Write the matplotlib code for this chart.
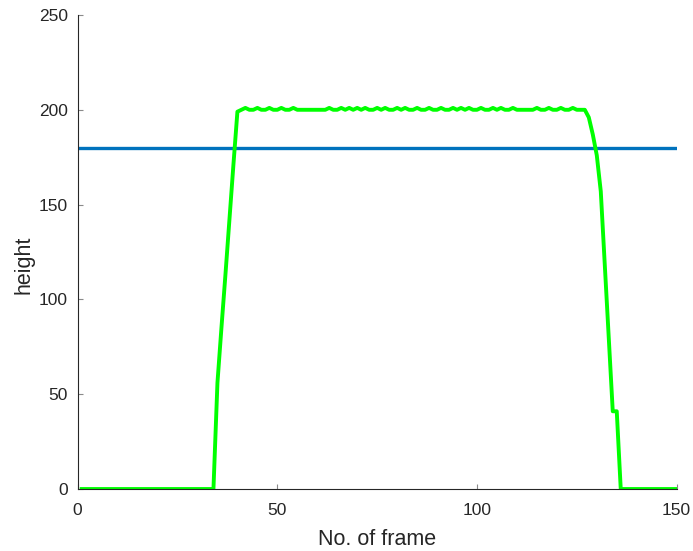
import matplotlib
matplotlib.use("Agg")
import matplotlib.pyplot as plt

# ── Dados ─────────────────────────────────────────────────────────────────────
frames = list(range(1, 151))
height = [
    0, 0, 0, 0, 0, 0, 0, 0, 0, 0,
    0, 0, 0, 0, 0, 0, 0, 0, 0, 0,
    0, 0, 0, 0, 0, 0, 0, 0, 0, 0,
    0, 0, 0, 0, 56, 85, 113, 142, 171, 199,
    200, 201, 200, 200, 201, 200, 200, 201, 200, 200,
    201, 200, 200, 201, 200, 200, 200, 200, 200, 200,
    200, 200, 201, 200, 200, 201, 200, 201, 200, 201,
    200, 201, 200, 200, 201, 200, 201, 200, 200, 201,
    200, 201, 200, 200, 201, 200, 200, 201, 200, 200,
    201, 200, 200, 201, 200, 201, 200, 201, 200, 200,
    201, 200, 200, 201, 200, 201, 200, 200, 201, 200,
    200, 200, 200, 200, 201, 200, 200, 201, 200, 200,
    201, 200, 200, 201, 200, 200, 200, 196, 187, 176,
    157, 118, 80, 41, 41, 0, 0, 0, 0, 0,
    0, 0, 0, 0, 0, 0, 0, 0, 0, 0,
]
limiar_x = [0, 50, 100, 150]
limiar_y = [180, 180, 180, 180]

BLUE  = "#0072BD"
GREEN = "#00FF00"
AXC   = "#262626"

plt.rcParams["font.family"] = ["Liberation Sans", "DejaVu Sans"]

fig = plt.figure(figsize=(6.93, 5.51), dpi=100)
ax = fig.add_axes([0.1121, 0.1125, 0.8643, 0.8603])

ax.plot(limiar_x, limiar_y, color=BLUE, linewidth=2.4, solid_joinstyle="round")
ax.plot(frames, height, color=GREEN, linewidth=2.8, solid_joinstyle="round")

ax.set_xlim(0, 150)
ax.set_ylim(0, 250)
ax.set_xticks([0, 50, 100, 150])
ax.set_yticks([0, 50, 100, 150, 200, 250])

ax.spines[["top", "right"]].set_visible(False)
for s in ("left", "bottom"):
    ax.spines[s].set_color(AXC)
    ax.spines[s].set_linewidth(0.8)
ax.tick_params(direction="in", length=3.5, width=0.8, color="#8a8a8a",
               labelsize=12.5, labelcolor=AXC)
ax.tick_params(axis="x", pad=10)
ax.tick_params(axis="y", pad=7)

ax.set_xlabel("No. of frame", fontsize=15.5, color=AXC, labelpad=8)
ax.set_ylabel("height", fontsize=15.5, color=AXC, labelpad=6)
ax.yaxis.set_label_coords(-0.072, 0.473)

fig.savefig("out.png", dpi=100)
